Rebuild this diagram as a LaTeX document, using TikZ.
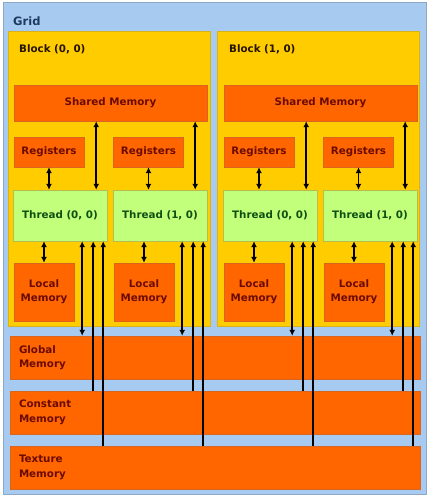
\documentclass[tikz,border=0pt]{standalone}
\usepackage{fontspec}
\setmainfont{DejaVu Sans}
\usepackage{tikz}
\usetikzlibrary{arrows.meta, positioning, calc}
\definecolor{gridblue}{HTML}{A6CAF0}
\definecolor{gridedge}{HTML}{8FA8C4}
\definecolor{blockgold}{HTML}{FFCC00}
\definecolor{blockedge}{HTML}{D9B21A}
\definecolor{memorange}{HTML}{FF6600}
\definecolor{memedge}{HTML}{D9651E}
\definecolor{threadgreen}{HTML}{C2FF7A}
\definecolor{threadedge}{HTML}{B5BE4A}
\definecolor{gridtext}{HTML}{1F3A60}
\definecolor{memtext}{HTML}{6B0A00}
\definecolor{threadtext}{HTML}{0F4F12}

\begin{document}
\begin{tikzpicture}[
    x=1pt, y=-1pt,
    gridbox/.style={rectangle, draw=gridedge, fill=gridblue, line width=1pt,
                    minimum width=423pt, minimum height=491pt, inner sep=0pt},
    blockbox/.style={rectangle, draw=blockedge, fill=blockgold, line width=1pt,
                     minimum width=202pt, minimum height=294pt, inner sep=0pt},
    mem/.style={rectangle, draw=memedge, fill=memorange, inner sep=0pt,
                minimum width=#1, align=center,
                font=\fontsize{10.3}{14}\selectfont\bfseries\color{memtext}},
    thread/.style={rectangle, draw=threadedge, fill=threadgreen, inner sep=0pt,
                   minimum width=94pt, minimum height=51pt,
                   font=\fontsize{10.3}{12}\selectfont\bfseries\color{threadtext}},
    bigmem/.style={rectangle, draw=memedge, fill=memorange, minimum height=43pt,
                   text width=392pt, inner xsep=9pt, inner ysep=0pt, align=left,
                   font=\fontsize{10.3}{14.5}\selectfont\bfseries\color{memtext}},
    lbl/.style={anchor=west, inner sep=0pt, font=\fontsize{10.3}{12}\selectfont\bfseries},
    arr/.style={{Latex[length=6pt,width=6pt]}-, line width=1.6pt},
    dbl/.style={{Latex[length=6pt,width=6pt]}-{Latex[length=6pt,width=6pt]}, line width=1.6pt}
]
\useasboundingbox (0,0) rectangle (429,503);

\node[gridbox] (grid) at (214.5,248.5) {};
\node[lbl, font=\fontsize{11.5}{13}\selectfont\bfseries\color{gridtext}] (gridlbl) at (13,21) {Grid};

% blocks
\node[blockbox] (blk0) at (109,179) {};
\node[blockbox] (blk1) at (318,179) {};
\node[lbl, color=black!85!orange] (blk0lbl) at (19,49) {Block (0, 0)};
\node[lbl, color=black!85!orange] (blk1lbl) at (229,49) {Block (1, 0)};

% block (0, 0)
\node[mem=193pt, minimum height=36pt] (b0sh) at (110.5,103) {Shared Memory};
\node[mem=70pt, minimum height=30pt] (b0r0) at (49,152) {Registers};
\node[mem=70pt, minimum height=30pt] (b0r1) at (148.5,152) {Registers};
\node[thread] (b0t0) at (60,215.5) {Thread (0, 0)};
\node[thread] (b0t1) at (160,215.5) {Thread (1, 0)};
\node[mem=60pt, minimum height=58pt] (b0l0) at (44,292) {Local\\Memory};
\node[mem=60pt, minimum height=58pt] (b0l1) at (144,292) {Local\\Memory};

% block (1, 0)
\node[mem=193pt, minimum height=36pt] (b1sh) at (320.5,103) {Shared Memory};
\node[mem=70pt, minimum height=30pt] (b1r0) at (259,152) {Registers};
\node[mem=70pt, minimum height=30pt] (b1r1) at (358.5,152) {Registers};
\node[thread] (b1t0) at (270,215.5) {Thread (0, 0)};
\node[thread] (b1t1) at (370,215.5) {Thread (1, 0)};
\node[mem=60pt, minimum height=58pt] (b1l0) at (254,292) {Local\\Memory};
\node[mem=60pt, minimum height=58pt] (b1l1) at (354,292) {Local\\Memory};

% device memories
\node[bigmem] (gmem) at (215,357.5) {Global\\Memory};
\node[bigmem] (cmem) at (215,412.5) {Constant\\Memory};
\node[bigmem] (tmem) at (215,467.5) {Texture\\Memory};

% registers, shared and local memory
\draw[dbl] (b0r0.south) -- (b0r0.south |- b0t0.north);
\draw[dbl] (b0r1.south) -- (b0r1.south |- b0t1.north);
\draw[dbl] (b1r0.south) -- (b1r0.south |- b1t0.north);
\draw[dbl] (b1r1.south) -- (b1r1.south |- b1t1.north);

\draw[dbl] ([xshift=-11pt]b0t0.north east) -- ([xshift=-11pt]b0t0.north east |- b0sh.south);
\draw[dbl] ([xshift=-12pt]b0t1.north east) -- ([xshift=-12pt]b0t1.north east |- b0sh.south);
\draw[dbl] ([xshift=-11pt]b1t0.north east) -- ([xshift=-11pt]b1t0.north east |- b1sh.south);
\draw[dbl] ([xshift=-12pt]b1t1.north east) -- ([xshift=-12pt]b1t1.north east |- b1sh.south);

\draw[dbl] (b0l0.north |- b0t0.south) -- (b0l0.north);
\draw[dbl] (b0l1.north |- b0t1.south) -- (b0l1.north);
\draw[dbl] (b1l0.north |- b1t0.south) -- (b1l0.north);
\draw[dbl] (b1l1.north |- b1t1.south) -- (b1l1.north);

% global, constant and texture memory
\draw[dbl] ([xshift=-25pt]b0t0.south east) -- ([xshift=-25pt]b0t0.south east |- gmem.north);
\draw[arr] ([xshift=-14pt]b0t0.south east) -- ([xshift=-14pt]b0t0.south east |- cmem.north);
\draw[arr] ([xshift=-4pt]b0t0.south east) -- ([xshift=-4pt]b0t0.south east |- tmem.north);
\draw[dbl] ([xshift=-25pt]b0t1.south east) -- ([xshift=-25pt]b0t1.south east |- gmem.north);
\draw[arr] ([xshift=-14pt]b0t1.south east) -- ([xshift=-14pt]b0t1.south east |- cmem.north);
\draw[arr] ([xshift=-4pt]b0t1.south east) -- ([xshift=-4pt]b0t1.south east |- tmem.north);
\draw[dbl] ([xshift=-25pt]b1t0.south east) -- ([xshift=-25pt]b1t0.south east |- gmem.north);
\draw[arr] ([xshift=-14pt]b1t0.south east) -- ([xshift=-14pt]b1t0.south east |- cmem.north);
\draw[arr] ([xshift=-4pt]b1t0.south east) -- ([xshift=-4pt]b1t0.south east |- tmem.north);
\draw[dbl] ([xshift=-25pt]b1t1.south east) -- ([xshift=-25pt]b1t1.south east |- gmem.north);
\draw[arr] ([xshift=-14pt]b1t1.south east) -- ([xshift=-14pt]b1t1.south east |- cmem.north);
\draw[arr] ([xshift=-4pt]b1t1.south east) -- ([xshift=-4pt]b1t1.south east |- tmem.north);
\end{tikzpicture}
\end{document}
